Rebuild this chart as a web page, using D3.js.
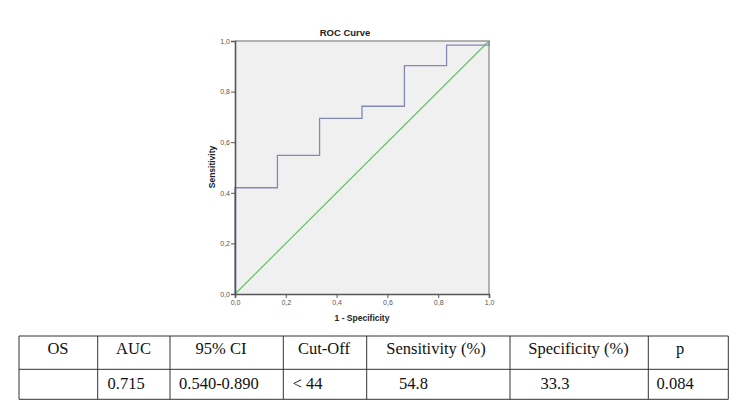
<!DOCTYPE html>
<html>
<head>
<meta charset="utf-8">
<script src="https://cdn.jsdelivr.net/npm/d3@7"></script>
<style>
  body { margin: 0; background: #fff; }
  svg { display: block; }
</style>
</head>
<body>
<div id="chart"></div>
<script>
// ROC steps (1 - specificity, sensitivity)
const fpr = [0, 0, 0.167, 0.167, 0.333, 0.333, 0.5, 0.5, 0.667, 0.667, 0.833, 0.833, 1.0, 1.0];
const tpr = [0, 0.42, 0.42, 0.548, 0.548, 0.694, 0.694, 0.742, 0.742, 0.903, 0.903, 0.984, 0.984, 1.0];
const refLine = [0, 1];
const tickValues = [0, 0.2, 0.4, 0.6, 0.8, 1.0];

// table below the chart
const tableHeader = ["OS", "AUC", "95% CI", "Cut-Off", "Sensitivity (%)", "Specificity (%)", "p"];
const tableRow = ["", "0.715", "0.540-0.890", "< 44", "54.8", "33.3", "0.084"];

const width = 750, height = 403;
const svg = d3.select("#chart").append("svg")
  .attr("width", width)
  .attr("height", height);

// plot area
const x = d3.scaleLinear().domain([0, 1]).range([235, 489]);
const y = d3.scaleLinear().domain([0, 1]).range([294, 41]);
const fmt = d => d3.format(".1f")(d).replace(".", ",");

svg.append("rect")
  .attr("x", x(0)).attr("y", y(1))
  .attr("width", x(1) - x(0)).attr("height", y(0) - y(1))
  .attr("fill", "#f0f0f0");

// top and right frame
svg.append("path")
  .attr("d", `M${x(0)},${y(1)}H${x(1)}V${y(0)}`)
  .attr("fill", "none")
  .attr("stroke", "#9a9a9a")
  .attr("stroke-width", 1.5);

// diagonal reference line
svg.append("line")
  .attr("x1", x(refLine[0])).attr("y1", y(refLine[0]))
  .attr("x2", x(refLine[1])).attr("y2", y(refLine[1]))
  .attr("stroke", "#66c266")
  .attr("stroke-width", 1.2);

// ROC curve
const rocData = fpr.map((d, i) => [d, tpr[i]]);
svg.append("path")
  .datum(rocData)
  .attr("d", d3.line().x(d => x(d[0])).y(d => y(d[1])))
  .attr("fill", "none")
  .attr("stroke", "#8389b5")
  .attr("stroke-width", 1.3);

// axes
const xAxis = svg.append("g")
  .attr("transform", `translate(0,${y(0)})`)
  .call(d3.axisBottom(x).tickValues(tickValues).tickFormat(fmt).tickSize(4).tickPadding(2));
const yAxis = svg.append("g")
  .attr("transform", `translate(${x(0)},0)`)
  .call(d3.axisLeft(y).tickValues(tickValues).tickFormat(fmt).tickSize(4).tickPadding(1));

[xAxis, yAxis].forEach(g => {
  g.select(".domain").attr("stroke", "#555").attr("stroke-width", 1.6);
  g.selectAll(".tick line").attr("stroke", "#555");
  g.selectAll(".tick text")
    .attr("fill", "#555")
    .style("font-family", "'Liberation Sans', Arial, sans-serif")
    .style("font-size", "7px");
});

// titles
svg.append("text")
  .attr("x", 345).attr("y", 36)
  .attr("text-anchor", "middle")
  .style("font-family", "'Liberation Sans', Arial, sans-serif")
  .style("font-size", "9.5px")
  .style("font-weight", "bold")
  .attr("fill", "#222")
  .text("ROC Curve");

svg.append("text")
  .attr("x", 362).attr("y", 321)
  .attr("text-anchor", "middle")
  .style("font-family", "'Liberation Sans', Arial, sans-serif")
  .style("font-size", "8.5px")
  .style("font-weight", "bold")
  .attr("fill", "#222")
  .text("1 - Specificity");

svg.append("text")
  .attr("transform", "translate(215,167) rotate(-90)")
  .attr("text-anchor", "middle")
  .style("font-family", "'Liberation Sans', Arial, sans-serif")
  .style("font-size", "8.5px")
  .style("font-weight", "bold")
  .attr("fill", "#222")
  .text("Sensitivity");

// TABLE
const colEdges = [19, 97.7, 170, 283.3, 366.7, 510, 648.3, 728.3];
const rowEdges = [336, 369.3, 399.3];
const headerX = [58, 133.5, 221, 324, 436, 578.5, 680];
const rowX = [26, 107.5, 179, 292.5, 399, 540.5, 656.5];

const table = svg.append("g");
colEdges.forEach(cx => {
  table.append("line")
    .attr("x1", cx).attr("x2", cx)
    .attr("y1", rowEdges[0]).attr("y2", rowEdges[2])
    .attr("stroke", "#333").attr("stroke-width", 1);
});
rowEdges.forEach(ry => {
  table.append("line")
    .attr("x1", colEdges[0]).attr("x2", colEdges[colEdges.length - 1])
    .attr("y1", ry).attr("y2", ry)
    .attr("stroke", "#333").attr("stroke-width", 1);
});

table.selectAll(".head")
  .data(tableHeader)
  .join("text")
  .attr("class", "head")
  .attr("x", (d, i) => headerX[i])
  .attr("y", 354)
  .attr("text-anchor", "middle")
  .style("font-family", "'Liberation Serif', 'Times New Roman', serif")
  .style("font-size", "16.5px")
  .attr("fill", "#111")
  .text(d => d);

table.selectAll(".cell")
  .data(tableRow)
  .join("text")
  .attr("class", "cell")
  .attr("x", (d, i) => rowX[i])
  .attr("y", 388.5)
  .style("font-family", "'Liberation Serif', 'Times New Roman', serif")
  .style("font-size", "16.5px")
  .attr("fill", "#111")
  .text(d => d);
</script>
</body>
</html>
